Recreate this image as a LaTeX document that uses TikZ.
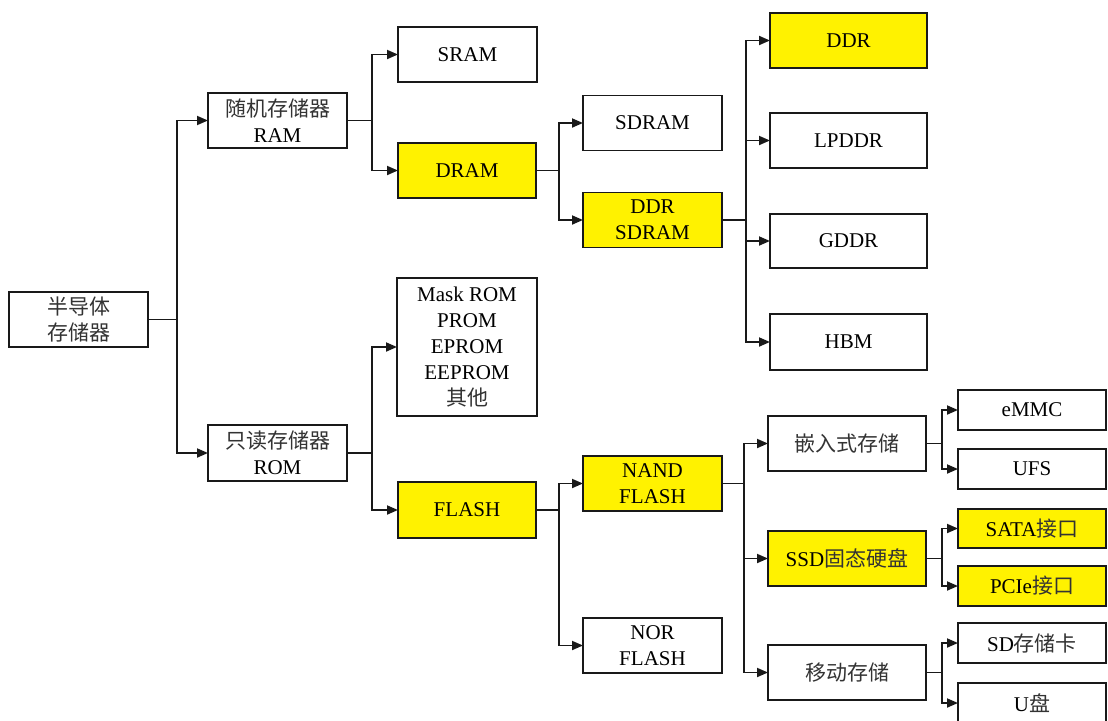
\documentclass[tikz,border=0pt]{standalone}
\usepackage{fontspec}
\setmainfont{Liberation Serif}
\newfontfamily\cjkfont{Noto Sans CJK SC}
\newcommand{\zh}[1]{{\cjkfont\color{black!80}#1}}
\usetikzlibrary{arrows.meta}
\begin{document}
\begin{tikzpicture}[x=1pt,y=-1pt,
  box/.style={draw=black!90, line width=1.9pt, minimum height=55pt, inner sep=0pt, outer sep=0pt,
    font=\fontsize{21}{26}\selectfont, align=center, text=black, fill=white},
  hl/.style={box, fill=yellow},
  conn/.style={line width=1.8pt, draw=black!90},
  arr/.style={conn, -{Triangle[length=11pt,width=9pt]}}]
\useasboundingbox (0,0) rectangle (1108,720);
\clip (0,0) rectangle (1108,720);
% nodes
\node[box, minimum width=139pt] (root) at (78.5,319.5) {\zh{半导体}\\\zh{存储器}};
\node[box, minimum width=139pt] (ram) at (277.5,120.5) {\zh{随机存储器}\\RAM};
\node[box, minimum width=139pt, minimum height=56pt] (rom) at (277.5,453) {\zh{只读存储器}\\ROM};
\node[box, minimum width=139pt] (sram) at (467.5,54.5) {SRAM};
\node[hl, minimum width=138pt] (dram) at (467,170.5) {DRAM};
\node[box, minimum width=140pt, minimum height=138pt] (mask) at (467,347) {Mask ROM\\PROM\\EPROM\\EEPROM\\\zh{其他}};
\node[hl, minimum width=138pt, minimum height=56pt] (flash) at (467,510) {FLASH};
\node[box, minimum width=139pt] (sdram) at (652.5,123) {SDRAM};
\node[hl, minimum width=139pt] (ddrsd) at (652.5,220) {DDR\\SDRAM};
\node[hl, minimum width=139pt] (nand) at (652.5,483.5) {NAND\\FLASH};
\node[box, minimum width=139pt] (nor) at (652.5,645.5) {NOR\\FLASH};
\node[hl, minimum width=157pt] (ddr) at (848.5,40.5) {DDR};
\node[box, minimum width=157pt] (lpddr) at (848.5,140.5) {LPDDR};
\node[box, minimum width=157pt, minimum height=54pt] (gddr) at (848.5,241) {GDDR};
\node[box, minimum width=157pt, minimum height=56pt] (hbm) at (848.5,342) {HBM};
\node[box, minimum width=158pt] (emb) at (847,443.5) {\zh{嵌入式存储}};
\node[hl, minimum width=158pt] (ssd) at (847,558.5) {SSD\zh{固态硬盘}};
\node[box, minimum width=158pt] (mob) at (847,672.5) {\zh{移动存储}};
\node[box, minimum width=148pt, minimum height=40pt] (emmc) at (1032,410) {eMMC};
\node[box, minimum width=148pt, minimum height=40pt] (ufs) at (1032,469) {UFS};
\node[hl, minimum width=148pt, minimum height=39pt] (sata) at (1032,528.5) {SATA\zh{接口}};
\node[hl, minimum width=148pt, minimum height=40pt] (pcie) at (1032,586) {PCIe\zh{接口}};
\node[box, minimum width=148pt, minimum height=40pt] (sdc) at (1032,643) {SD\zh{存储卡}};
\node[box, minimum width=148pt, minimum height=40pt] (udisk) at (1032,703) {U\zh{盘}};
% junction columns
\coordinate (j0) at (177,0);
\coordinate (j1) at (372,0);
\coordinate (j3) at (559,0);
\coordinate (j5) at (746,0);
\coordinate (j6) at (744,0);
\coordinate (j7) at (942,0);
% connectors
\foreach \p/\j/\c in {root/j0/ram, root/j0/rom,
  ram/j1/sram, ram/j1/dram, rom/j1/mask, rom/j1/flash,
  dram/j3/sdram, dram/j3/ddrsd, flash/j3/nand, flash/j3/nor,
  ddrsd/j5/ddr, ddrsd/j5/lpddr, ddrsd/j5/gddr, ddrsd/j5/hbm,
  nand/j6/emb, nand/j6/ssd, nand/j6/mob,
  emb/j7/emmc, emb/j7/ufs, ssd/j7/sata, ssd/j7/pcie, mob/j7/sdc, mob/j7/udisk}
  \draw[arr] (\p.east) -- (\j|-\p.east) |- (\c.west);
\end{tikzpicture}
\end{document}
